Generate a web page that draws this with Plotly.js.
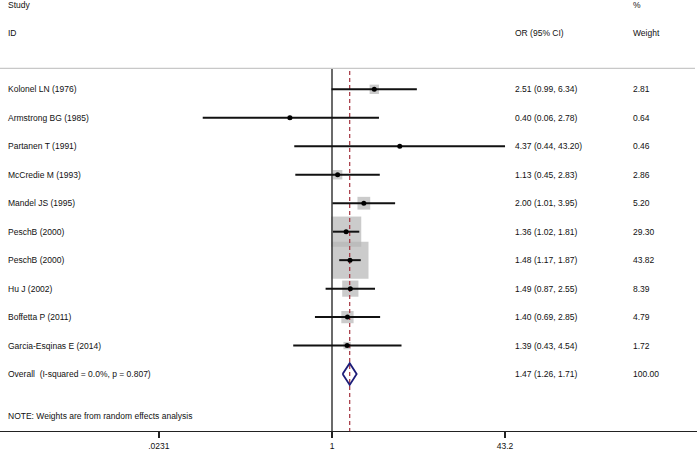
<!DOCTYPE html>
<html>
<head>
<meta charset="utf-8">
<script src="https://cdn.plot.ly/plotly-3.0.1.min.js"></script>
<style>html,body{margin:0;padding:0;background:#fff;}#chart{width:697px;height:449px;}</style>
</head>
<body>
<div id="chart"></div>
<script>
// ---- data ----
const studies = ["Kolonel LN (1976)", "Armstrong BG (1985)", "Partanen T (1991)", "McCredie M (1993)",
  "Mandel JS (1995)", "PeschB (2000)", "PeschB (2000)", "Hu J (2002)", "Boffetta P (2011)", "Garcia-Esqinas E (2014)"];
const orValues = [2.51, 0.40, 4.37, 1.13, 2.00, 1.36, 1.48, 1.49, 1.40, 1.39];
const ciLow    = [0.99, 0.06, 0.44, 0.45, 1.01, 1.02, 1.17, 0.87, 0.69, 0.43];
const ciHigh   = [6.34, 2.78, 43.20, 2.83, 3.95, 1.81, 1.87, 2.55, 2.85, 4.54];
const weights  = [2.81, 0.64, 0.46, 2.86, 5.20, 29.30, 43.82, 8.39, 4.79, 1.72];
const overallLabel = "Overall  (I-squared = 0.0%, p = 0.807)";
const overallOR = 1.47, overallLow = 1.26, overallHigh = 1.71, overallWeight = 100.00;
const nullValue = 1;
const tickVals = [0.0231, 1, 43.2];
const tickText = [".0231", "1", "43.2"];
const noteText = "NOTE: Weights are from random effects analysis";

// ---- layout helpers ----
const W = 697, H = 449;
const FONT = "Liberation Sans, Arial, sans-serif";
const FS = 8.5;
const rows = studies.map((s, i) => i + 1);
const overallRow = studies.length + 1;
const yTop = -2.137, yBottom = 13.0;   // axis range (reversed)
const rowFromPx = p => yTop + p / 28.47;
const px = p => p / W;

const fmt = v => v.toFixed(2);

// CI segments
const ciX = [], ciY = [];
rows.forEach((r, i) => { ciX.push(ciLow[i], ciHigh[i], null); ciY.push(r, r, null); });

const traces = [];
// weight boxes
traces.push({
  type: "scatter", mode: "markers", x: orValues, y: rows,
  marker: { symbol: "square", size: weights.map(w => 5.59 * Math.sqrt(w)), color: "#b5b5b5", line: { width: 0 } },
  hoverinfo: "skip", cliponaxis: false
});
// null line
traces.push({
  type: "scatter", mode: "lines", x: [nullValue, nullValue], y: [rowFromPx(68.3), yBottom],
  line: { color: "#3a3a3a", width: 1.5 }, hoverinfo: "skip"
});
// overall dashed line
traces.push({
  type: "scatter", mode: "lines", x: [overallOR, overallOR], y: [rowFromPx(71), yBottom],
  line: { color: "#a3313d", width: 1.2, dash: "4px,3px" }, hoverinfo: "skip"
});
// CI lines
traces.push({
  type: "scatter", mode: "lines", x: ciX, y: ciY, connectgaps: false,
  line: { color: "#111", width: 2 }, hoverinfo: "skip"
});
// point estimates
traces.push({
  type: "scatter", mode: "markers", x: orValues, y: rows,
  marker: { symbol: "circle", size: 5, color: "#000" }, hoverinfo: "skip"
});
// overall diamond
const dh = 0.38;
traces.push({
  type: "scatter", mode: "lines",
  x: [overallLow, overallOR, overallHigh, overallOR, overallLow],
  y: [overallRow, overallRow - dh, overallRow, overallRow + dh, overallRow],
  line: { color: "#1c1c78", width: 1.8 }, hoverinfo: "skip"
});

// annotations
const ann = [];
const txt = (x, row, text) => ({ xref: "paper", yref: "y", x: x, y: row, text: text, showarrow: false,
  xanchor: "left", yanchor: "middle", font: { family: FONT, size: FS, color: "#111" } });
ann.push(txt(px(6), rowFromPx(5), "Study"));
ann.push(txt(px(6), rowFromPx(33), "ID"));
ann.push(txt(px(513), rowFromPx(33), "OR (95% CI)"));
ann.push(txt(px(631), rowFromPx(5), "%"));
ann.push(txt(px(631), rowFromPx(33), "Weight"));
rows.forEach((r, i) => {
  ann.push(txt(px(6), r, studies[i]));
  ann.push(txt(px(513), r, fmt(orValues[i]) + " (" + fmt(ciLow[i]) + ", " + fmt(ciHigh[i]) + ")"));
  ann.push(txt(px(631), r, fmt(weights[i])));
});
ann.push(txt(px(6), overallRow, overallLabel));
ann.push(txt(px(513), overallRow, fmt(overallOR) + " (" + fmt(overallLow) + ", " + fmt(overallHigh) + ")"));
ann.push(txt(px(631), overallRow, fmt(overallWeight)));
ann.push(txt(px(6), rowFromPx(416), noteText));

const layout = {
  width: W, height: H,
  margin: { l: 0, r: 0, t: 0, b: 18, pad: 0 },
  paper_bgcolor: "#fff", plot_bgcolor: "#fff",
  showlegend: false, hovermode: false,
  font: { family: FONT, size: FS, color: "#111" },
  xaxis: {
    type: "log", range: [-3.138, 3.45], tickvals: tickVals, ticktext: tickText,
    ticks: "outside", ticklen: 6, tickwidth: 1.5, tickcolor: "#222",
    showline: true, linecolor: "#222", linewidth: 1.3, showgrid: false, zeroline: false,
    tickfont: { family: FONT, size: FS, color: "#111" }, fixedrange: true
  },
  yaxis: { range: [yBottom, yTop], visible: false, showgrid: false, zeroline: false, fixedrange: true },
  shapes: [{ type: "line", xref: "paper", yref: "y", x0: 0, x1: px(695), y0: rowFromPx(68.3), y1: rowFromPx(68.3),
    line: { color: "#c8c8c8", width: 1.2 } }],
  annotations: ann
};

Plotly.newPlot("chart", traces, layout, { displayModeBar: false, staticPlot: true });
</script>
</body>
</html>
